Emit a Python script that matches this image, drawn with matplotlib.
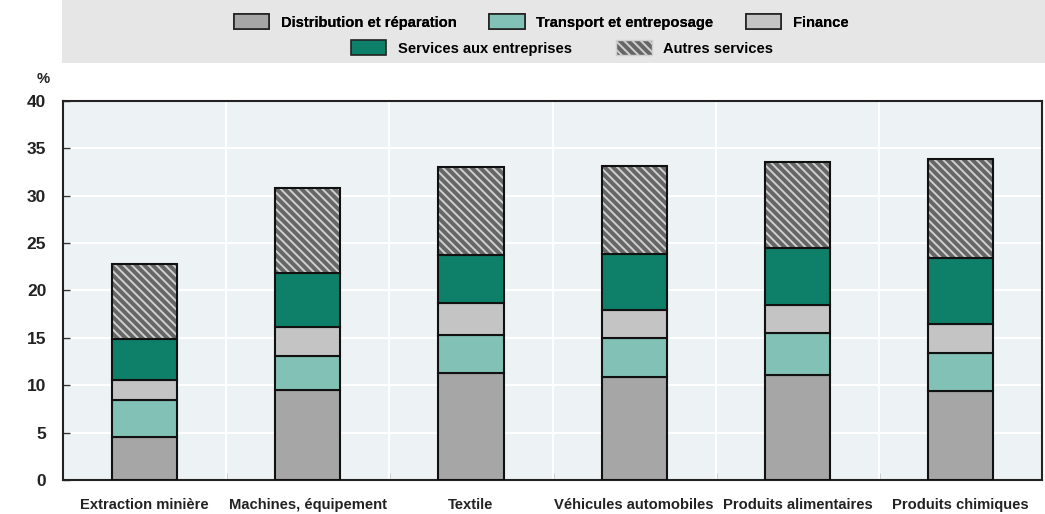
import matplotlib
matplotlib.use("Agg")
import matplotlib.pyplot as plt
from matplotlib.patches import Rectangle, Patch
import numpy as np

categories = ["Extraction minière", "Machines, équipement", "Textile",
              "Véhicules automobiles", "Produits alimentaires", "Produits chimiques"]
series_names = ["Distribution et réparation", "Transport et entreposage", "Finance",
                "Services aux entreprises", "Autres services"]
distribution = [4.5, 9.5, 11.3, 10.9, 11.1, 9.4]
transport = [3.9, 3.6, 4.0, 4.05, 4.4, 4.0]
finance = [2.2, 3.0, 3.4, 2.95, 3.0, 3.1]
services = [4.25, 5.7, 5.0, 5.9, 5.95, 6.9]
autres = [7.95, 9.0, 9.3, 9.35, 9.05, 10.45]
yticks = [0, 5, 10, 15, 20, 25, 30, 35, 40]

plt.rcParams['font.family'] = ['Liberation Sans', 'DejaVu Sans']
plt.rcParams['hatch.linewidth'] = 1.4

FS = 10.6
fig = plt.figure(figsize=(10.45, 5.14), dpi=100)
fig.patches.append(Rectangle((0.059, 0.878), 0.941, 0.122, transform=fig.transFigure,
                             facecolor='#e6e6e6', edgecolor='none', zorder=0))

ax = fig.add_axes([0.0603, 0.066, 0.937, 0.738])
ax.set_facecolor('#edf3f4')
x = np.arange(len(categories))
w = 0.4
data = [distribution, transport, finance, services, autres]
colors = ['#a6a6a6', '#82c1b5', '#c4c4c4', '#0e8069', '#666666']
bottom = np.zeros(len(categories))
handles = []
for i, (vals, c) in enumerate(zip(data, colors)):
    vals = np.array(vals)
    if i == 4:
        ax.bar(x, vals, w, bottom=bottom, facecolor=c, edgecolor='#d0d0d0',
               hatch='\\\\\\\\', linewidth=0, zorder=3)
        ax.bar(x, vals, w, bottom=bottom, facecolor='none', edgecolor='#111111',
               linewidth=1.5, zorder=4)
        h = Patch(facecolor=c, edgecolor='#d0d0d0', hatch='\\\\\\\\')
    else:
        ax.bar(x, vals, w, bottom=bottom, color=c, edgecolor='#111111',
               linewidth=1.5, zorder=3)
        h = Patch(facecolor=c, edgecolor='#222222', linewidth=1.2)
    handles.append(h)
    bottom += vals

ax.set_xlim(-0.5, len(categories) - 0.5)
ax.set_ylim(0, 40)
ax.set_yticks(yticks)
ax.set_yticklabels([str(t) for t in yticks], fontsize=12.5, fontweight='bold', color='#222222')
ax.yaxis.grid(True, color='white', linewidth=1.5, zorder=1)
for b in np.arange(0.5, len(categories) - 0.5, 1):
    ax.axvline(b, color='white', linewidth=1.5, zorder=1)
ax.set_axisbelow(True)
ax.set_xticks(x)
ax.set_xticklabels(categories, fontsize=FS, fontweight='bold', color='#222222')
ax.tick_params(axis='x', length=0, pad=13)
ax.set_xticks(np.arange(0.5, len(categories) - 0.5, 1), minor=True)
ax.tick_params(axis='x', which='minor', direction='in', length=5, width=1, color='#333333')
ax.tick_params(axis='y', direction='in', length=5, width=1, color='#333333', pad=12)
for s in ax.spines.values():
    s.set_color('#222222')
    s.set_linewidth(1.5)

fig.text(0.041, 0.838, '%', fontsize=FS, fontweight='bold', color='#222222', ha='center')

leg1 = fig.legend(handles[:3], series_names[:3], loc='center', bbox_to_anchor=(0.518, 0.957),
                  ncol=3, frameon=False, prop={'weight': 'bold', 'size': FS},
                  handlelength=2.4, handleheight=1.2, columnspacing=2.2, handletextpad=0.8)
fig.add_artist(leg1)
leg2 = fig.legend(handles[3:], series_names[3:], loc='center', bbox_to_anchor=(0.538, 0.907),
                  ncol=2, frameon=False, prop={'weight': 'bold', 'size': FS},
                  handlelength=2.4, handleheight=1.2, columnspacing=3.0, handletextpad=0.8)

fig.savefig('out.png', dpi=100)
